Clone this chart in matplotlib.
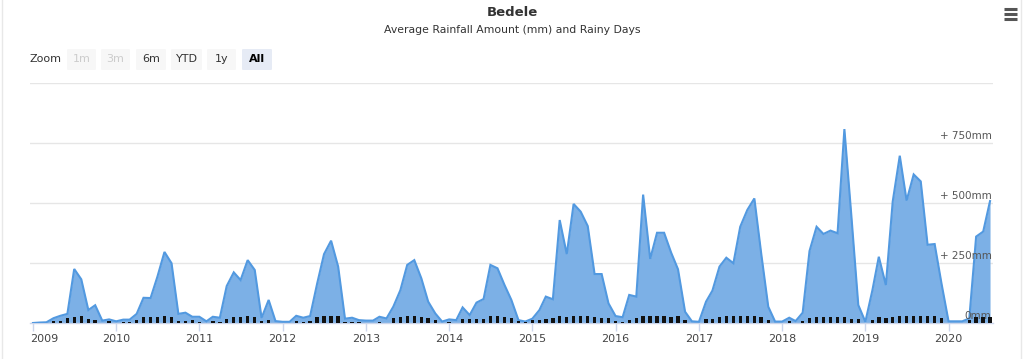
import matplotlib
matplotlib.use("Agg")
import matplotlib.pyplot as plt
import matplotlib.dates as mdates
from matplotlib.patches import FancyBboxPatch
from matplotlib.lines import Line2D
import matplotlib.transforms as mtransforms
import pandas as pd
import datetime as dt

plt.rcParams['font.family'] = ['DejaVu Sans']

# ---- data ----
start_month = '2009-01-01'
rain_mm = [
    0, 2, 3, 20, 30, 38, 225, 182, 54, 74, 10, 15,            # 2009
    7, 14, 14, 38, 105, 104, 193, 296, 249, 38, 43, 26,       # 2010
    26, 7, 26, 22, 154, 211, 179, 262, 221, 21, 96, 8,        # 2011
    5, 5, 30, 22, 29, 165, 287, 343, 235, 18, 22, 12,         # 2012
    10, 10, 26, 19, 68, 137, 242, 262, 186, 89, 40, 6,        # 2013
    15, 12, 65, 33, 85, 100, 242, 228, 158, 96, 12, 6,        # 2014
    18, 54, 110, 99, 429, 287, 496, 464, 404, 204, 204, 82,   # 2015
    29, 24, 117, 110, 535, 267, 376, 376, 293, 224, 47, 7,    # 2016
    5, 89, 135, 235, 272, 249, 401, 471, 519, 290, 68, 6,     # 2017
    6, 22, 8, 43, 300, 401, 371, 385, 374, 808, 442, 75,      # 2018
    5, 137, 276, 158, 506, 697, 510, 619, 590, 326, 329, 165, # 2019
    7, 7, 7, 19, 360, 381, 508,                               # 2020
]
rainy_days = [
    0, 0, 0, 9, 8, 18, 21, 25, 15, 11, 0, 9,
    0, 5, 5, 11, 21, 21, 21, 25, 23, 9, 9, 12,
    4, 0, 6, 4, 15, 21, 21, 25, 21, 8, 11, 0,
    0, 0, 8, 4, 8, 21, 25, 25, 25, 4, 4, 4,
    0, 0, 4, 0, 18, 21, 25, 25, 21, 18, 11, 0,
    4, 0, 15, 15, 15, 15, 25, 25, 21, 18, 8, 4,
    10, 10, 14, 18, 25, 21, 25, 25, 25, 21, 18, 18,
    6, 4, 10, 18, 25, 25, 25, 25, 21, 25, 10, 0,
    0, 15, 15, 23, 26, 26, 26, 26, 26, 23, 11, 0,
    0, 8, 0, 8, 18, 24, 24, 24, 21, 21, 15, 15,
    0, 11, 24, 18, 21, 25, 25, 25, 25, 25, 25, 19,
    0, 0, 0, 11, 24, 24, 21,
]
year_ticks = list(range(2009, 2021))
y_grid = [0, 250, 500, 750, 1000]
y_labels = ['0mm', '+ 250mm', '+ 500mm', '+ 750mm']
zoom_buttons = ['1m', '3m', '6m', 'YTD', '1y', 'All']
title = 'Bedele'
subtitle = 'Average Rainfall Amount (mm) and Rainy Days'

months = pd.date_range(start_month, periods=len(rain_mm), freq='MS')

W, H = 1024, 359
fig = plt.figure(figsize=(W / 100, H / 100), dpi=100)
fig.patch.set_facecolor('white')

def fx(px):
    return px / W

def fy(py):
    return 1 - py / H

left, right, top, bottom = 30, 993, 83, 323
ax = fig.add_axes([fx(left), fy(bottom), fx(right - left), (bottom - top) / H])
ax.set_facecolor('none')

ax.fill_between(months, rain_mm, 0, color='#7cb0e6', linewidth=0, zorder=2)
ax.plot(months, rain_mm, color='#5299e0', linewidth=1.5, zorder=3,
        solid_joinstyle='miter')

ax.set_ylim(0, 1000)
x0 = mdates.date2num(dt.datetime(2009, 1, 1)) - 13
x1 = mdates.date2num(dt.datetime(2020, 7, 1)) + 13
ax.set_xlim(x0, x1)

for g in y_grid[1:]:
    ax.axhline(g, color='#e6e6e6', linewidth=1, zorder=1)

# rainy days on secondary axis
ax2 = ax.twinx()
ax2.bar(months, rainy_days, width=15, color='#111111', zorder=4, align='center')
ax2.set_ylim(0, 900)
ax2.set_xlim(x0, x1)
ax2.axis('off')

for s in ['top', 'left', 'right']:
    ax.spines[s].set_visible(False)
ax.spines['bottom'].set_color('#ccd6eb')
ax.spines['bottom'].set_linewidth(1)
ax.set_yticks([])

ticks = [mdates.date2num(dt.datetime(y, 1, 1)) for y in year_ticks]
ax.set_xticks(ticks)
ax.set_xticklabels([str(y) for y in year_ticks])
ax.tick_params(axis='x', direction='out', length=6, width=1, color='#ccd6eb',
               labelsize=8, labelcolor='#444444', pad=2)
lbl0 = ax.get_xticklabels()[0]
lbl0.set_ha('left')
lbl0.set_transform(lbl0.get_transform() + mtransforms.ScaledTranslation(-2 / 72, 0, fig.dpi_scale_trans))

# right-side y labels inside plot
for v, t in zip(y_grid[:4], y_labels):
    ax.annotate(t, xy=(1.0, v), xycoords=('axes fraction', 'data'),
                xytext=(-1, 1.5), textcoords='offset points', ha='right', va='bottom',
                fontsize=7.5, color='#555555', zorder=6)

# title & subtitle
fig.text(0.5, fy(12), title, ha='center', va='center', fontsize=9.5,
         fontweight='bold', color='#333333')
fig.text(0.5, fy(30), subtitle, ha='center', va='center', fontsize=7.8, color='#333333')

# zoom buttons
fig.text(fx(30), fy(59), 'Zoom', ha='left', va='center', fontsize=8, color='#333333')
btn_x = [67, 101, 136, 171, 207, 242]
btn_w = [29, 29, 30, 31, 29, 30]
for i, (lab, bx, bw) in enumerate(zip(zoom_buttons, btn_x, btn_w)):
    if lab == 'All':
        fc, tc, fw = '#e6ebf5', '#000000', 'bold'
    elif lab in ('1m', '3m'):
        fc, tc, fw = '#f7f7f7', '#cccccc', 'normal'
    else:
        fc, tc, fw = '#f7f7f7', '#333333', 'normal'
    fig.patches.append(FancyBboxPatch((fx(bx), fy(70)), fx(bw), 21 / H,
                                      boxstyle='round,pad=0,rounding_size=0.002',
                                      transform=fig.transFigure, facecolor=fc,
                                      edgecolor='none'))
    fig.text(fx(bx + bw / 2), fy(59.5), lab, ha='center', va='center', fontsize=8,
             color=tc, fontweight=fw)

# container borders
for xx in (2, 1021):
    fig.add_artist(Line2D([fx(xx), fx(xx)], [0, 1], color='#e8e8e8', linewidth=1,
                          transform=fig.transFigure))

# hamburger menu
for yy in (9, 14, 19):
    fig.add_artist(Line2D([fx(1004), fx(1017)], [fy(yy), fy(yy)], color='#555555',
                          linewidth=2.2, transform=fig.transFigure,
                          solid_capstyle='butt'))

fig.savefig('out.png', dpi=100, facecolor='white')
